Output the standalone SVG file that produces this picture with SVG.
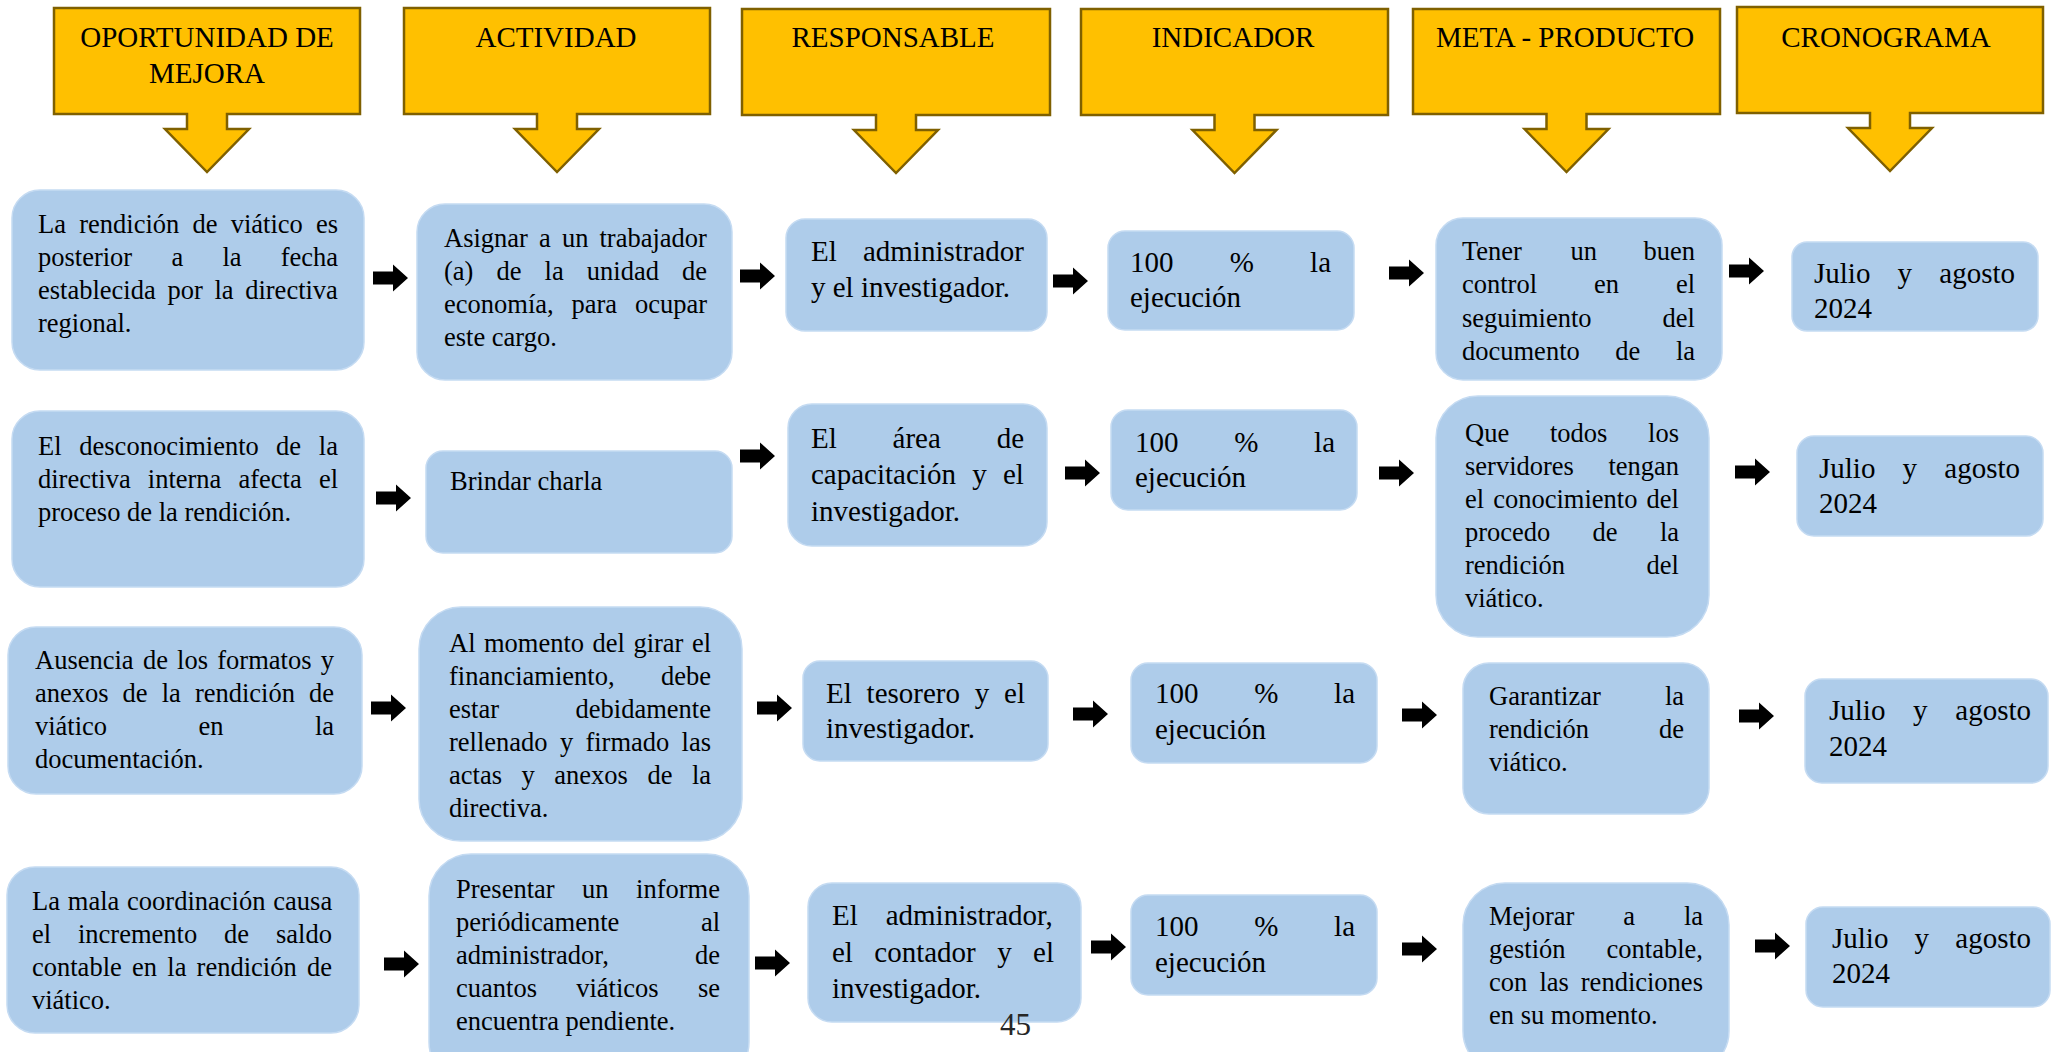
<svg xmlns="http://www.w3.org/2000/svg" xmlns:xlink="http://www.w3.org/1999/xlink" width="2051" height="1052" viewBox="0 0 2051 1052">
<style>
.hb{fill:#FFC000;stroke:#7F6000;stroke-width:2.5;stroke-linejoin:miter}
.ht{font-family:"Liberation Serif","Times New Roman",serif;font-size:29px;fill:#000;text-anchor:middle}
.bx{fill:#AECCEA;stroke:#C5DBF2;stroke-width:1.5}
.s{font-family:"Liberation Serif","Times New Roman",serif;font-size:26.5px;fill:#000}
.l{font-family:"Liberation Serif","Times New Roman",serif;font-size:29px;fill:#000}
.pg{font-family:"Liberation Serif","Times New Roman",serif;font-size:31px;fill:#262626}
</style>
<defs>
<path id="ra" d="M0,-6.5 H20 V-13.5 L35,0 L20,13.5 V6.5 H0 Z" fill="#000"/>
</defs>
<rect width="2051" height="1052" fill="#fff"/>

<g id="headers">
<g id="h1"><path class="hb" d="M54,8 H360 V114 H227 V129 H249 L207,172 L165,129 H187 V114 H54 Z"/><text class="ht" x="207" y="47">OPORTUNIDAD DE</text><text class="ht" x="207" y="83">MEJORA</text></g>
<g id="h2"><path class="hb" d="M404,8 H710 V114 H577 V129 H599 L557,172 L515,129 H537 V114 H404 Z"/><text class="ht" x="556" y="47">ACTIVIDAD</text></g>
<g id="h3"><path class="hb" d="M742,9 H1050 V115 H916 V130 H938 L896,173 L854,130 H876 V115 H742 Z"/><text class="ht" x="893" y="47">RESPONSABLE</text></g>
<g id="h4"><path class="hb" d="M1081,9 H1388 V115 H1254.5 V130 H1276.5 L1234.5,173 L1192.5,130 H1214.5 V115 H1081 Z"/><text class="ht" x="1233" y="47">INDICADOR</text></g>
<g id="h5"><path class="hb" d="M1413,9 H1720 V114 H1586.5 V129 H1608.5 L1566.5,172 L1524.5,129 H1546.5 V114 H1413 Z"/><text class="ht" x="1565" y="47">META - PRODUCTO</text></g>
<g id="h6"><path class="hb" d="M1737,7 H2043 V113 H1910 V128 H1932 L1890,171 L1848,128 H1870 V113 H1737 Z"/><text class="ht" x="1886" y="47">CRONOGRAMA</text></g>
</g>

<g id="connectors">
<use xlink:href="#ra" href="#ra" x="373" y="278"/>
<use xlink:href="#ra" href="#ra" x="740" y="276"/>
<use xlink:href="#ra" href="#ra" x="1053" y="281"/>
<use xlink:href="#ra" href="#ra" x="1389" y="273"/>
<use xlink:href="#ra" href="#ra" x="1729" y="271"/>
<use xlink:href="#ra" href="#ra" x="376" y="498"/>
<use xlink:href="#ra" href="#ra" x="740" y="456"/>
<use xlink:href="#ra" href="#ra" x="1065" y="473"/>
<use xlink:href="#ra" href="#ra" x="1379" y="473"/>
<use xlink:href="#ra" href="#ra" x="1735" y="472"/>
<use xlink:href="#ra" href="#ra" x="371" y="708"/>
<use xlink:href="#ra" href="#ra" x="757" y="708"/>
<use xlink:href="#ra" href="#ra" x="1073" y="714"/>
<use xlink:href="#ra" href="#ra" x="1402" y="715"/>
<use xlink:href="#ra" href="#ra" x="1739" y="716"/>
<use xlink:href="#ra" href="#ra" x="384" y="964"/>
<use xlink:href="#ra" href="#ra" x="755" y="963"/>
<use xlink:href="#ra" href="#ra" x="1091" y="947"/>
<use xlink:href="#ra" href="#ra" x="1402" y="949"/>
<use xlink:href="#ra" href="#ra" x="1755" y="946"/>
</g>

<g id="A1"><rect class="bx" x="12" y="190" width="352" height="180" rx="28"/>
<text class="s"><tspan x="38" y="233">La</tspan><tspan x="79.2" y="233">rendición</tspan><tspan x="192.5" y="233">de</tspan><tspan x="230.7" y="233">viático</tspan><tspan x="316" y="233">es</tspan>
<tspan x="38" y="266">posterior</tspan><tspan x="171.4" y="266">a</tspan><tspan x="222.4" y="266">la</tspan><tspan x="280.7" y="266">fecha</tspan>
<tspan x="38" y="299">establecida</tspan><tspan x="167.4" y="299">por</tspan><tspan x="214.4" y="299">la</tspan><tspan x="245.2" y="299">directiva</tspan>
<tspan x="38" y="332">regional.</tspan></text></g>

<g id="B1"><rect class="bx" x="417" y="204" width="315" height="176" rx="28"/>
<text class="s"><tspan x="444" y="247">Asignar</tspan><tspan x="539" y="247">a</tspan><tspan x="561.9" y="247">un</tspan><tspan x="599.5" y="247">trabajador</tspan>
<tspan x="444" y="280">(a)</tspan><tspan x="496.5" y="280">de</tspan><tspan x="544.6" y="280">la</tspan><tspan x="586.8" y="280">unidad</tspan><tspan x="682" y="280">de</tspan>
<tspan x="444" y="313">economía,</tspan><tspan x="571.5" y="313">para</tspan><tspan x="634.9" y="313">ocupar</tspan>
<tspan x="444" y="346">este cargo.</tspan></text></g>

<g id="C1"><rect class="bx" x="786" y="219" width="261" height="112" rx="19"/>
<text class="l"><tspan x="811" y="261">El</tspan><tspan x="862.9" y="261">administrador</tspan>
<tspan x="811" y="297">y el investigador.</tspan></text></g>

<g id="D1"><rect class="bx" x="1108" y="231" width="246" height="99" rx="17"/>
<text class="l"><tspan x="1130" y="272">100</tspan><tspan x="1229.7" y="272">%</tspan><tspan x="1310.1" y="272">la</tspan>
<tspan x="1130" y="307">ejecución</tspan></text></g>

<g id="E1"><rect class="bx" x="1436" y="218" width="286" height="162" rx="27"/>
<text class="s"><tspan x="1462" y="260">Tener</tspan><tspan x="1570.4" y="260">un</tspan><tspan x="1643.5" y="260">buen</tspan>
<tspan x="1462" y="293">control</tspan><tspan x="1594" y="293">en</tspan><tspan x="1675.9" y="293">el</tspan>
<tspan x="1462" y="327">seguimiento</tspan><tspan x="1662.6" y="327">del</tspan>
<tspan x="1462" y="360">documento</tspan><tspan x="1615.3" y="360">de</tspan><tspan x="1675.9" y="360">la</tspan></text></g>

<g id="F1"><rect class="bx" x="1792" y="242" width="246" height="89" rx="15"/>
<text class="l"><tspan x="1814" y="283">Julio</tspan><tspan x="1897.6" y="283">y</tspan><tspan x="1939.3" y="283">agosto</tspan>
<tspan x="1814" y="318">2024</tspan></text></g>

<g id="A2"><rect class="bx" x="12" y="411" width="352" height="176" rx="28"/>
<text class="s"><tspan x="38" y="455">El</tspan><tspan x="79.3" y="455">desconocimiento</tspan><tspan x="276.1" y="455">de</tspan><tspan x="318.8" y="455">la</tspan>
<tspan x="38" y="488">directiva</tspan><tspan x="147.8" y="488">interna</tspan><tspan x="238.5" y="488">afecta</tspan><tspan x="318.9" y="488">el</tspan>
<tspan x="38" y="521">proceso de la rendición.</tspan></text></g>

<g id="B2"><rect class="bx" x="426" y="451" width="306" height="102" rx="17"/>
<text class="s"><tspan x="450" y="490">Brindar charla</tspan></text></g>

<g id="C2"><rect class="bx" x="788" y="404" width="259" height="142" rx="24"/>
<text class="l"><tspan x="811" y="448">El</tspan><tspan x="892.6" y="448">área</tspan><tspan x="996.7" y="448">de</tspan>
<tspan x="811" y="484">capacitación</tspan><tspan x="972.2" y="484">y</tspan><tspan x="1003" y="484">el</tspan>
<tspan x="811" y="521">investigador.</tspan></text></g>

<g id="D2"><rect class="bx" x="1111" y="410" width="246" height="100" rx="17"/>
<text class="l"><tspan x="1135" y="452">100</tspan><tspan x="1234.2" y="452">%</tspan><tspan x="1314.1" y="452">la</tspan>
<tspan x="1135" y="487">ejecución</tspan></text></g>

<g id="E2"><rect class="bx" x="1436" y="396" width="273" height="241" rx="42"/>
<text class="s"><tspan x="1465" y="442">Que</tspan><tspan x="1549.9" y="442">todos</tspan><tspan x="1648.1" y="442">los</tspan>
<tspan x="1465" y="475">servidores</tspan><tspan x="1608.4" y="475">tengan</tspan>
<tspan x="1465" y="508">el</tspan><tspan x="1493.2" y="508">conocimiento</tspan><tspan x="1646.6" y="508">del</tspan>
<tspan x="1465" y="541">procedo</tspan><tspan x="1592.6" y="541">de</tspan><tspan x="1659.9" y="541">la</tspan>
<tspan x="1465" y="574">rendición</tspan><tspan x="1646.6" y="574">del</tspan>
<tspan x="1465" y="607">viático.</tspan></text></g>

<g id="F2"><rect class="bx" x="1797" y="436" width="246" height="100" rx="17"/>
<text class="l"><tspan x="1819" y="478">Julio</tspan><tspan x="1902.6" y="478">y</tspan><tspan x="1944.3" y="478">agosto</tspan>
<tspan x="1819" y="513">2024</tspan></text></g>

<g id="A3"><rect class="bx" x="8" y="627" width="354" height="167" rx="28"/>
<text class="s"><tspan x="35" y="669">Ausencia</tspan><tspan x="142.9" y="669">de</tspan><tspan x="177.1" y="669">los</tspan><tspan x="217.3" y="669">formatos</tspan><tspan x="320.7" y="669">y</tspan>
<tspan x="35" y="702">anexos</tspan><tspan x="122.6" y="702">de</tspan><tspan x="161.7" y="702">la</tspan><tspan x="194.9" y="702">rendición</tspan><tspan x="309" y="702">de</tspan>
<tspan x="35" y="735">viático</tspan><tspan x="198.5" y="735">en</tspan><tspan x="314.9" y="735">la</tspan>
<tspan x="35" y="768">documentación.</tspan></text></g>

<g id="B3"><rect class="bx" x="419" y="607" width="323" height="234" rx="42"/>
<text class="s"><tspan x="449" y="652">Al</tspan><tspan x="484" y="652">momento</tspan><tspan x="592.5" y="652">del</tspan><tspan x="633.4" y="652">girar</tspan><tspan x="691.9" y="652">el</tspan>
<tspan x="449" y="685">financiamiento,</tspan><tspan x="661" y="685">debe</tspan>
<tspan x="449" y="718">estar</tspan><tspan x="575.6" y="718">debidamente</tspan>
<tspan x="449" y="751">rellenado</tspan><tspan x="559.9" y="751">y</tspan><tspan x="585.4" y="751">firmado</tspan><tspan x="681.6" y="751">las</tspan>
<tspan x="449" y="784">actas</tspan><tspan x="521.5" y="784">y</tspan><tspan x="554.3" y="784">anexos</tspan><tspan x="647.4" y="784">de</tspan><tspan x="691.9" y="784">la</tspan>
<tspan x="449" y="817">directiva.</tspan></text></g>

<g id="C3"><rect class="bx" x="803" y="661" width="245" height="100" rx="17"/>
<text class="l"><tspan x="826" y="703">El</tspan><tspan x="866.6" y="703">tesorero</tspan><tspan x="974.8" y="703">y</tspan><tspan x="1004.1" y="703">el</tspan>
<tspan x="826" y="738">investigador.</tspan></text></g>

<g id="D3"><rect class="bx" x="1131" y="663" width="246" height="100" rx="17"/>
<text class="l"><tspan x="1155" y="703">100</tspan><tspan x="1254.2" y="703">%</tspan><tspan x="1334.1" y="703">la</tspan>
<tspan x="1155" y="739">ejecución</tspan></text></g>

<g id="E3"><rect class="bx" x="1463" y="663" width="246" height="151" rx="26"/>
<text class="s"><tspan x="1489" y="705">Garantizar</tspan><tspan x="1664.9" y="705">la</tspan>
<tspan x="1489" y="738">rendición</tspan><tspan x="1659" y="738">de</tspan>
<tspan x="1489" y="771">viático.</tspan></text></g>

<g id="F3"><rect class="bx" x="1805" y="679" width="243" height="104" rx="17"/>
<text class="l"><tspan x="1829" y="720">Julio</tspan><tspan x="1913.1" y="720">y</tspan><tspan x="1955.3" y="720">agosto</tspan>
<tspan x="1829" y="756">2024</tspan></text></g>

<g id="A4"><rect class="bx" x="7" y="867" width="352" height="166" rx="28"/>
<text class="s"><tspan x="32" y="910">La</tspan><tspan x="67.8" y="910">mala</tspan><tspan x="127.1" y="910">coordinación</tspan><tspan x="273.3" y="910">causa</tspan>
<tspan x="32" y="943">el</tspan><tspan x="78" y="943">incremento</tspan><tspan x="224.1" y="943">de</tspan><tspan x="276" y="943">saldo</tspan>
<tspan x="32" y="976">contable</tspan><tspan x="132" y="976">en</tspan><tspan x="167.3" y="976">la</tspan><tspan x="196.6" y="976">rendición</tspan><tspan x="307" y="976">de</tspan>
<tspan x="32" y="1009">viático.</tspan></text></g>

<g id="B4"><rect class="bx" x="429" y="854" width="320" height="230" rx="42"/>
<text class="s"><tspan x="456" y="898">Presentar</tspan><tspan x="582.1" y="898">un</tspan><tspan x="636.1" y="898">informe</tspan>
<tspan x="456" y="931">periódicamente</tspan><tspan x="700.9" y="931">al</tspan>
<tspan x="456" y="964">administrador,</tspan><tspan x="695" y="964">de</tspan>
<tspan x="456" y="997">cuantos</tspan><tspan x="576.2" y="997">viáticos</tspan><tspan x="697.9" y="997">se</tspan>
<tspan x="456" y="1030">encuentra pendiente.</tspan></text></g>

<g id="C4"><rect class="bx" x="808" y="883" width="273" height="139" rx="24"/>
<text class="l"><tspan x="832" y="925">El</tspan><tspan x="885.7" y="925">administrador,</tspan>
<tspan x="832" y="962">el</tspan><tspan x="874.3" y="962">contador</tspan><tspan x="997.2" y="962">y</tspan><tspan x="1033.1" y="962">el</tspan>
<tspan x="832" y="998">investigador.</tspan></text></g>

<g id="D4"><rect class="bx" x="1131" y="895" width="246" height="100" rx="17"/>
<text class="l"><tspan x="1155" y="936">100</tspan><tspan x="1254.2" y="936">%</tspan><tspan x="1334.1" y="936">la</tspan>
<tspan x="1155" y="972">ejecución</tspan></text></g>

<g id="E4"><rect class="bx" x="1463" y="883" width="266" height="190" rx="42"/>
<text class="s"><tspan x="1489" y="925">Mejorar</tspan><tspan x="1623.2" y="925">a</tspan><tspan x="1683.9" y="925">la</tspan>
<tspan x="1489" y="958">gestión</tspan><tspan x="1606.6" y="958">contable,</tspan>
<tspan x="1489" y="991">con</tspan><tspan x="1539.4" y="991">las</tspan><tspan x="1580.8" y="991">rendiciones</tspan>
<tspan x="1489" y="1024">en su momento.</tspan></text></g>

<g id="F4"><rect class="bx" x="1806" y="907" width="244" height="100" rx="17"/>
<text class="l"><tspan x="1832" y="948">Julio</tspan><tspan x="1914.6" y="948">y</tspan><tspan x="1955.3" y="948">agosto</tspan>
<tspan x="1832" y="983">2024</tspan></text></g>

<g id="page"><text class="pg" x="1000" y="1035">45</text></g>
</svg>
